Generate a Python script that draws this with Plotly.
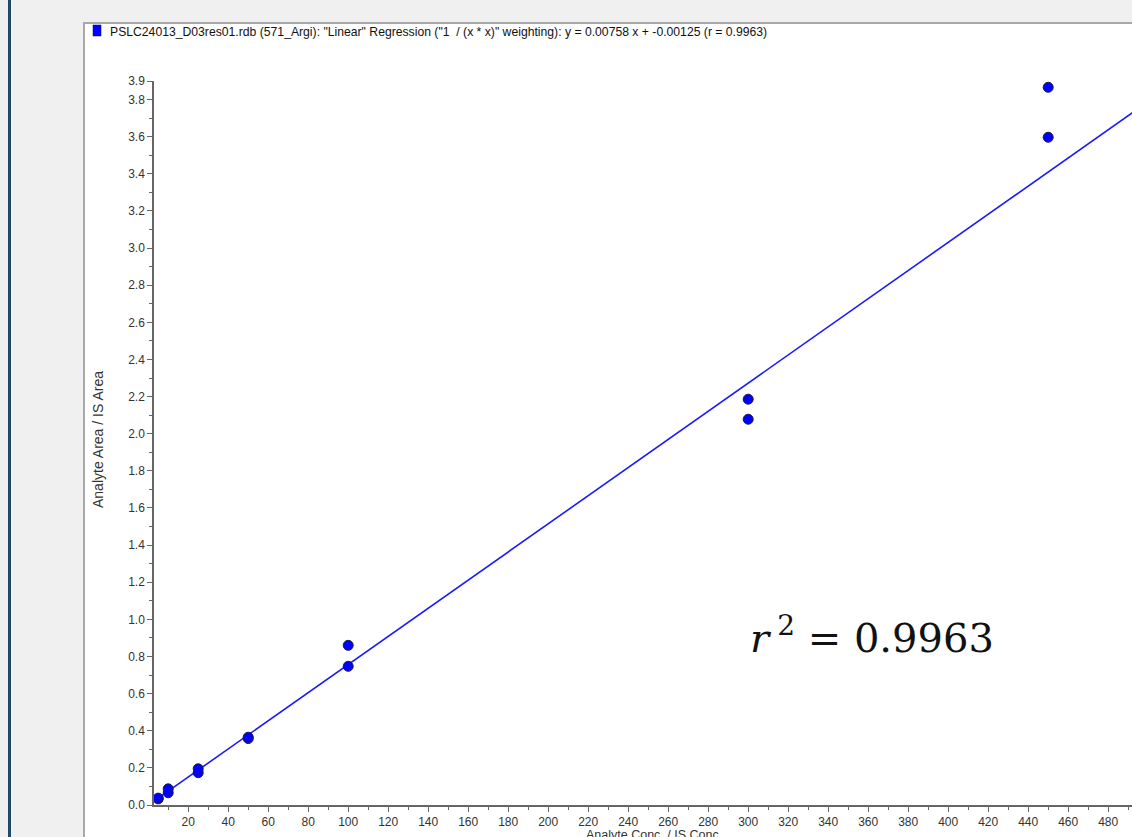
import plotly.graph_objects as go

# ---- data ----
conc = [5, 5, 10, 10, 25, 25, 50, 50, 100, 100, 300, 300, 450, 450]
area_ratio = [0.033, 0.037, 0.066, 0.087, 0.174, 0.195, 0.358, 0.365,
              0.747, 0.860, 2.078, 2.186, 3.597, 3.866]
slope = 0.00758
intercept = -0.00125
r_squared_text = "0.9963"
line_x = [5, 500]
x_ticks = list(range(20, 481, 20))
y_ticks = [0.0, 0.2, 0.4, 0.6, 0.8, 1.0, 1.2, 1.4, 1.6, 1.8, 2.0, 2.2, 2.4,
           2.6, 2.8, 3.0, 3.2, 3.4, 3.6, 3.8, 3.9]
y_tick_text = [f"{v:.1f}" for v in y_ticks]
title_text = ('PSLC24013_D03res01.rdb (571_Argi): "Linear" Regression '
              '("1 \u00a0/ (x * x)" weighting): y = 0.00758 x + -0.00125 (r = 0.9963)')

# ---- geometry (pixels) ----
FW, FH = 1132, 837
L, R, T, B = 154, 1132, 81, 805
W, H = R - L, B - T


def px(p):
    return (p - L) / W


def py(p):
    return (B - p) / H


line_y = [slope * x + intercept for x in line_x]

fig = go.Figure()
fig.add_trace(go.Scatter(
    x=line_x, y=line_y, mode="lines",
    line=dict(color="#1a1aff", width=1.6),
    hoverinfo="skip", showlegend=False,
))
fig.add_trace(go.Scatter(
    x=conc, y=area_ratio, mode="markers",
    marker=dict(color="#0000ff", size=10, line=dict(color="#1a1a40", width=1)),
    showlegend=False,
))

axis_font = dict(family="Liberation Sans, Arial, sans-serif", size=12, color="#333333")

fig.update_xaxes(
    range=[2.9, 491.9], showgrid=False, zeroline=False,
    showline=True, linecolor="#666666", linewidth=1.5,
    ticks="outside", ticklen=5, tickwidth=1, tickcolor="#666666",
    tickvals=x_ticks, ticktext=[str(v) for v in x_ticks],
    tickfont=axis_font,
    minor=dict(dtick=10, tick0=0, ticks="outside", ticklen=3, tickcolor="#666666"),
)
fig.update_yaxes(
    range=[0, 3.9], showgrid=False, zeroline=False,
    showline=True, linecolor="#666666", linewidth=1.5,
    ticks="outside", ticklen=5, tickwidth=1, tickcolor="#666666",
    tickvals=y_ticks, ticktext=y_tick_text,
    tickfont=axis_font,
    minor=dict(dtick=0.1, tick0=0, ticks="outside", ticklen=3, tickcolor="#666666"),
)

shapes = [
    # outer dark vertical bar
    dict(type="rect", xref="paper", yref="paper",
         x0=px(8), x1=px(11), y0=py(FH + 5), y1=py(-5),
         fillcolor="#1e4a68", line=dict(width=0), layer="below"),
    # white panel
    dict(type="rect", xref="paper", yref="paper",
         x0=px(84), x1=px(FW + 20), y0=py(FH + 20), y1=py(23),
         fillcolor="white", line=dict(color="#a8a8a8", width=2), layer="below"),
    # legend square
    dict(type="rect", xref="paper", yref="paper",
         x0=px(93), x1=px(101), y0=py(36), y1=py(25),
         fillcolor="#0000ff", line=dict(color="#000080", width=0.5), layer="above"),
]

annotations = [
    dict(text=title_text, xref="paper", yref="paper", x=px(108), y=py(32),
         xanchor="left", yanchor="middle", showarrow=False,
         font=dict(family="Liberation Sans, Arial, sans-serif", size=12.2, color="#111111")),
    dict(text="Analyte Area / IS Area", xref="paper", yref="paper", x=px(98), y=py(440),
         xanchor="center", yanchor="middle", textangle=-90, showarrow=False,
         font=dict(family="Liberation Sans, Arial, sans-serif", size=14, color="#333333")),
    dict(text="Analyte Conc. / IS Conc.", xref="paper", yref="paper", x=px(654), y=py(826),
         xanchor="center", yanchor="top", showarrow=False,
         font=dict(family="Liberation Sans, Arial, sans-serif", size=12.5, color="#333333")),
    dict(text=f"<i>r</i>\u2009<sup>2</sup> = {r_squared_text}", xref="paper", yref="paper",
         x=px(872), y=py(635), xanchor="center", yanchor="middle", showarrow=False,
         font=dict(family="DejaVu Serif, Liberation Serif, serif", size=40, color="#111111")),
]

fig.update_layout(
    width=FW, height=FH,
    margin=dict(l=L, r=FW - R, t=T, b=FH - B, pad=0),
    paper_bgcolor="#f0f0f0", plot_bgcolor="white",
    shapes=shapes, annotations=annotations,
    showlegend=False,
)

fig.write_html("out.html")
